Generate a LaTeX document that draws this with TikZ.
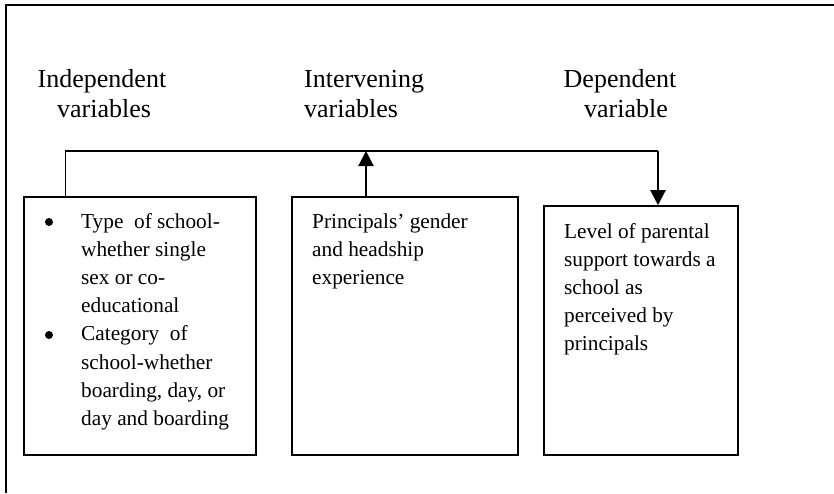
\documentclass[tikz,border=0pt]{standalone}
\usepackage{fontspec}
\setmainfont{Liberation Serif}
\usepackage{tikz}
\usetikzlibrary{shapes,arrows.meta}

\begin{document}
\begin{tikzpicture}[x=1pt,y=-1pt,
  box/.style={draw,line width=1.6pt,inner sep=0pt},
  head/.style={font=\fontsize{26}{30}\selectfont,inner sep=0pt,anchor=base},
  txt/.style={font=\fontsize{21.3}{28}\selectfont,inner sep=0pt,anchor=base west},
  dot/.style={circle,fill,inner sep=0pt,minimum size=8pt},
  arr/.style={line width=2.2pt,-{Triangle[length=15pt,width=15pt]}}]

\useasboundingbox (0,0) rectangle (834,493);
\draw[line width=1.6pt] (834,5) -- (6,5) -- (6,493);

\node [head] (h1) at (102,87) {Independent};
\node [head] (h2) at (104,117) {variables};
\node [head,anchor=base west] (h3) at (304,87) {Intervening};
\node [head,anchor=base west] (h4) at (304,117) {variables};
\node [head] (h5) at (620,87) {Dependent};
\node [head] (h6) at (626,117) {variable};

\node [box,minimum width=232pt,minimum height=258pt] (b1) at (140,326) {};
\node [box,minimum width=226pt,minimum height=258pt] (b2) at (405,326) {};
\node [box,minimum width=194pt,minimum height=249pt] (b3) at (641,330.5) {};

\coordinate (c1) at (65.5,151);
\coordinate (c2) at (658,151);
\coordinate (c3) at (366,151);
\draw[line width=1.4pt] (b1.north -| c1) -- (c1) -- (c2);
\draw[arr] (c2) -- (b3.north -| c2);
\draw[arr] (b2.north -| c3) -- (c3);

\node [dot] (u1) at (49,222) {};
\node [dot] (u2) at (49,335) {};
\foreach \t [count=\i from 0] in {Type~ of school-, whether single, sex or co-, educational, Category~ of, school-whether, {boarding, day, or}, day and boarding}
    \node [txt] (t\i) at (81,228+28.2*\i) {\t};
\foreach \t [count=\i from 0] in {Principals’ gender, and headship, experience}
    \node [txt] (p\i) at (312,228+28.2*\i) {\t};
\foreach \t [count=\i from 0] in {Level of parental, support towards a, school as, perceived by, principals}
    \node [txt] (d\i) at (564,238+28*\i) {\t};

\end{tikzpicture}
\end{document}
